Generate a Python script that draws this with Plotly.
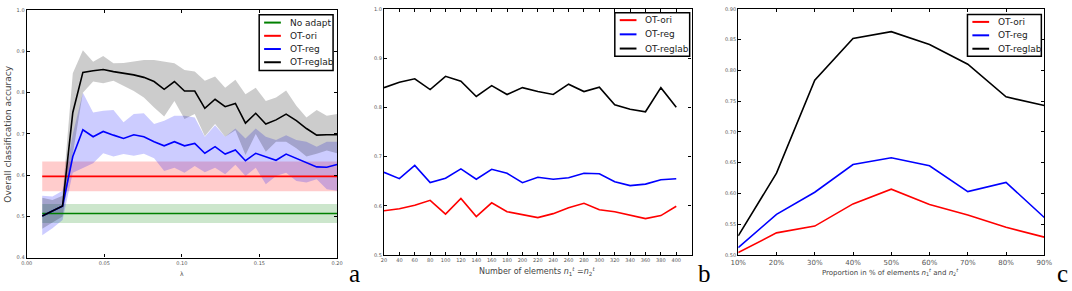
import plotly.graph_objects as go

# ---------------- Panel a data ----------------
lam = [0.010, 0.0166, 0.0231, 0.0297, 0.0362, 0.0428, 0.0493, 0.0559, 0.0624, 0.0690,
       0.0755, 0.0821, 0.0886, 0.0952, 0.1017, 0.1083, 0.1148, 0.1214, 0.1279, 0.1345,
       0.1410, 0.1476, 0.1541, 0.1607, 0.1672, 0.1738, 0.1803, 0.1869, 0.1934, 0.200]

reglab_mean = [0.501, 0.513, 0.525, 0.752, 0.849, 0.853, 0.856, 0.851, 0.847, 0.843,
               0.837, 0.827, 0.808, 0.827, 0.804, 0.804, 0.762, 0.784, 0.766, 0.774,
               0.726, 0.750, 0.724, 0.734, 0.748, 0.732, 0.713, 0.697, 0.698, 0.698]
reglab_hi = [0.545, 0.540, 0.550, 0.847, 0.903, 0.875, 0.889, 0.871, 0.872, 0.876,
             0.879, 0.879, 0.875, 0.871, 0.855, 0.851, 0.829, 0.839, 0.812, 0.831,
             0.796, 0.812, 0.780, 0.788, 0.805, 0.768, 0.740, 0.758, 0.744, 0.748]
reglab_lo = [0.470, 0.485, 0.500, 0.655, 0.800, 0.827, 0.823, 0.829, 0.816, 0.804,
             0.788, 0.764, 0.742, 0.780, 0.736, 0.748, 0.694, 0.724, 0.693, 0.709,
             0.649, 0.700, 0.657, 0.681, 0.681, 0.665, 0.645, 0.652, 0.660, 0.653]

reg_mean = [0.501, 0.513, 0.525, 0.645, 0.710, 0.693, 0.706, 0.697, 0.689, 0.698,
            0.693, 0.681, 0.671, 0.681, 0.671, 0.677, 0.653, 0.669, 0.651, 0.661,
            0.635, 0.653, 0.645, 0.636, 0.651, 0.641, 0.631, 0.620, 0.619, 0.626]
reg_hi = [0.550, 0.548, 0.562, 0.700, 0.800, 0.752, 0.756, 0.758, 0.728, 0.748,
          0.750, 0.724, 0.732, 0.744, 0.744, 0.740, 0.693, 0.721, 0.693, 0.713,
          0.689, 0.713, 0.693, 0.685, 0.697, 0.685, 0.681, 0.669, 0.681, 0.681]
reg_lo = [0.454, 0.471, 0.491, 0.606, 0.618, 0.629, 0.653, 0.645, 0.651, 0.647,
          0.652, 0.641, 0.610, 0.618, 0.606, 0.622, 0.607, 0.618, 0.602, 0.625,
          0.598, 0.618, 0.578, 0.598, 0.606, 0.586, 0.582, 0.590, 0.566, 0.562]

ori_mean, ori_lo, ori_hi = 0.597, 0.561, 0.633
noad_mean, noad_lo, noad_hi = 0.507, 0.484, 0.530

# ---------------- Panel b data ----------------
n_elem = [20, 40, 60, 80, 100, 120, 140, 160, 180, 200,
          220, 240, 260, 280, 300, 320, 340, 360, 380, 400]
b_reglab = [0.840, 0.851, 0.858, 0.836, 0.863, 0.853, 0.822, 0.844, 0.826, 0.840,
            0.832, 0.826, 0.847, 0.832, 0.841, 0.805, 0.796, 0.791, 0.840, 0.800]
b_reg = [0.668, 0.655, 0.682, 0.647, 0.656, 0.675, 0.654, 0.674, 0.666, 0.647,
         0.658, 0.654, 0.657, 0.666, 0.665, 0.649, 0.641, 0.644, 0.653, 0.655]
b_ori = [0.590, 0.594, 0.601, 0.611, 0.583, 0.615, 0.578, 0.606, 0.588, 0.582,
         0.576, 0.584, 0.596, 0.605, 0.592, 0.588, 0.581, 0.574, 0.580, 0.599]

# ---------------- Panel c data ----------------
prop = [10, 20, 30, 40, 50, 60, 70, 80, 90]
prop_labels = ["10%", "20%", "30%", "40%", "50%", "60%", "70%", "80%", "90%"]
c_reglab = [0.531, 0.633, 0.784, 0.852, 0.863, 0.842, 0.810, 0.757, 0.743]
c_reg = [0.512, 0.566, 0.602, 0.647, 0.658, 0.645, 0.603, 0.618, 0.561]
c_ori = [0.504, 0.536, 0.547, 0.583, 0.607, 0.582, 0.565, 0.545, 0.529]

legend_a = ["No adapt", "OT-ori", "OT-reg", "OT-reglab"]
legend_bc = ["OT-ori", "OT-reg", "OT-reglab"]

GREEN = "#008000"
RED = "#ff0000"
BLUE = "#0000ff"
BLACK = "#000000"

fig = go.Figure()


def band(x, lo, hi, color, xa, ya):
    xs = list(x) + list(x)[::-1]
    ys = list(hi) + list(lo)[::-1]
    fig.add_trace(go.Scatter(x=xs, y=ys, mode="lines", fill="toself", fillcolor=color,
                             line=dict(width=0), hoverinfo="skip", showlegend=False,
                             xaxis=xa, yaxis=ya))


def line(x, y, color, name, xa, ya):
    fig.add_trace(go.Scatter(x=x, y=y, mode="lines", name=name,
                             line=dict(color=color, width=1.6),
                             xaxis=xa, yaxis=ya, showlegend=False))


# Panel a
ends = [lam[0], lam[-1]]
band(ends, [noad_lo] * 2, [noad_hi] * 2, "rgba(0,128,0,0.2)", "x", "y")
band(ends, [ori_lo] * 2, [ori_hi] * 2, "rgba(255,0,0,0.2)", "x", "y")
band(lam, reg_lo, reg_hi, "rgba(0,0,255,0.2)", "x", "y")
band(lam, reglab_lo, reglab_hi, "rgba(0,0,0,0.2)", "x", "y")
line(ends, [noad_mean] * 2, GREEN, "No adapt", "x", "y")
line(ends, [ori_mean] * 2, RED, "OT-ori", "x", "y")
line(lam, reg_mean, BLUE, "OT-reg", "x", "y")
line(lam, reglab_mean, BLACK, "OT-reglab", "x", "y")

# Panel b
line(n_elem, b_ori, RED, "OT-ori", "x2", "y2")
line(n_elem, b_reg, BLUE, "OT-reg", "x2", "y2")
line(n_elem, b_reglab, BLACK, "OT-reglab", "x2", "y2")

# Panel c
line(prop, c_ori, RED, "OT-ori", "x3", "y3")
line(prop, c_reg, BLUE, "OT-reg", "x3", "y3")
line(prop, c_reglab, BLACK, "OT-reglab", "x3", "y3")

W, H = 1072, 291
FONT = "DejaVu Sans"


def ax(**kw):
    d = dict(showline=True, linecolor="black", linewidth=1.3, mirror="ticks",
             ticks="inside", ticklen=3, tickcolor="black", tickwidth=1,
             showgrid=False, zeroline=False,
             tickfont=dict(size=5, color="#555555", family=FONT))
    d.update(kw)
    return d


yd_a = [1 - 260 / H, 1 - 7.3 / H]
yd_bc = [1 - 257.3 / H, 1 - 6 / H]

fig.update_layout(
    width=W, height=H, autosize=False,
    margin=dict(l=0, r=0, t=0, b=0),
    paper_bgcolor="white", plot_bgcolor="white",
    showlegend=False,
    xaxis=ax(domain=[19 / W, 334 / W], range=[0, 0.2], tickvals=[0, 0.05, 0.10, 0.15, 0.20],
             tickformat=".2f", anchor="y"),
    yaxis=ax(domain=yd_a, range=[0.4, 1.0], dtick=0.1, tickformat=".1f", anchor="x"),
    xaxis2=ax(domain=[381.7 / W, 694 / W], range=[20, 420], tickvals=n_elem, anchor="y2"),
    yaxis2=ax(domain=yd_bc, range=[0.5, 1.0], dtick=0.1, tickformat=".1f", anchor="x2"),
    xaxis3=ax(domain=[741.3 / W, 1052 / W], range=[10, 90], tickvals=prop, ticktext=prop_labels,
              anchor="y3", tickfont=dict(size=7, color="#555555", family=FONT)),
    yaxis3=ax(domain=yd_bc, range=[0.5, 0.9], dtick=0.05, tickformat=".2f", anchor="x3"),
)


# ---- legends drawn as framed boxes (pixel layout) ----
def px_x(v):
    return v / W


def px_y(v):
    return 1 - v / H


def legend_box(left, top, right, bottom, rows, names, colors):
    fig.add_shape(type="rect", xref="paper", yref="paper",
                  x0=px_x(left), x1=px_x(right), y0=px_y(bottom), y1=px_y(top),
                  line=dict(color="black", width=1.5), fillcolor="white", layer="above")
    for ry, nm, col in zip(rows, names, colors):
        fig.add_shape(type="line", xref="paper", yref="paper",
                      x0=px_x(left + 5), x1=px_x(left + 22), y0=px_y(ry), y1=px_y(ry),
                      line=dict(color=col, width=2), layer="above")
        fig.add_annotation(xref="paper", yref="paper", x=px_x(left + 29), y=px_y(ry),
                           xanchor="left", yanchor="middle", showarrow=False, text=nm,
                           font=dict(size=9, family=FONT, color="#222"))


legend_box(255, 12, 330, 69, [20, 33.5, 47, 60.5], legend_a, [GREEN, RED, BLUE, BLACK])
legend_box(616, 10, 692, 54.3, [17.5, 32, 46.5], legend_bc, [RED, BLUE, BLACK])
legend_box(974, 11.7, 1049, 54.3, [19.3, 33, 46.7], legend_bc, [RED, BLUE, BLACK])

annos = [
    dict(text="Overall classification accuracy", x=7 / W, y=1 - 133.5 / H, textangle=-90,
         xanchor="right", font=dict(size=9, family=FONT, color="#444")),
    dict(text="λ", x=177 / W, y=1 - 276 / H, font=dict(size=6, family=FONT, color="#444")),
    dict(text="Number of elements <i>n</i><sub>1</sub><sup><i>t</i></sup> =<i>n</i><sub>2</sub><sup><i>t</i></sup>",
         x=537 / W, y=1 - 274 / H, font=dict(size=8, family=FONT, color="#444")),
    dict(text="Proportion in % of elements <i>n</i><sub>1</sub><sup><i>t</i></sup> and <i>n</i><sub>2</sub><sup><i>t</i></sup>",
         x=896 / W, y=1 - 275 / H, font=dict(size=7, family=FONT, color="#444")),
    dict(text="a", x=352 / W, y=1 - 276 / H, font=dict(size=25, family="Liberation Serif", color="black")),
    dict(text="b", x=707 / W, y=1 - 276 / H, font=dict(size=25, family="Liberation Serif", color="black")),
    dict(text="c", x=1070 / W, y=1 - 276 / H, font=dict(size=25, family="Liberation Serif", color="black")),
]
for a in annos:
    a.setdefault("xanchor", "center")
    fig.add_annotation(xref="paper", yref="paper", showarrow=False,
                       yanchor="middle", **a)

fig.write_html("out.html")
